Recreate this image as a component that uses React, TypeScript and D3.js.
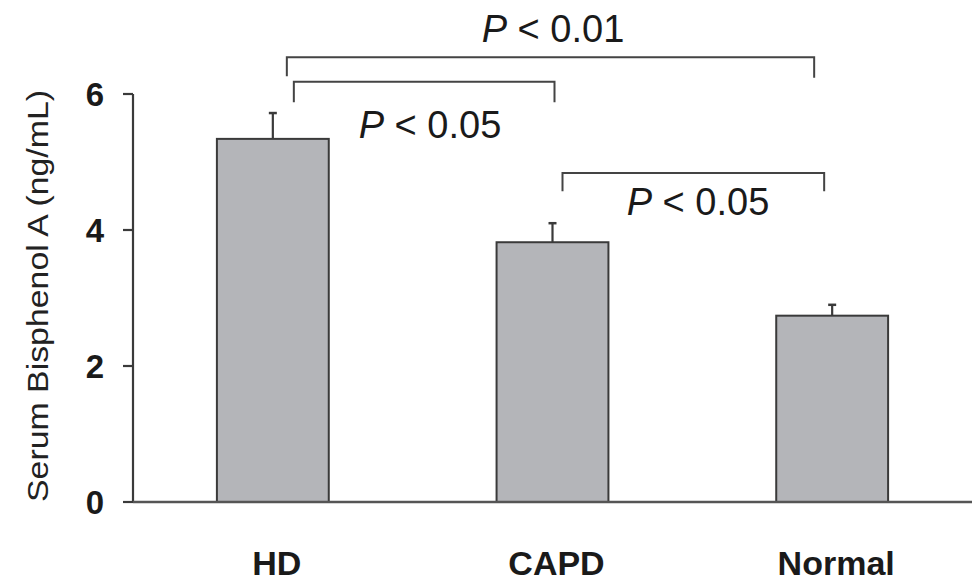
import React from 'react';
import * as d3 from 'd3';

const categories = ['HD', 'CAPD', 'Normal'];
const means = [5.34, 3.82, 2.74];
const errors = [0.38, 0.28, 0.16];
const yTicks = [0, 2, 4, 6];

// significance brackets: [left group, right group, label value]
const comparisons = [
  { from: 'HD', to: 'Normal', p: '0.01' },
  { from: 'HD', to: 'CAPD', p: '0.05' },
  { from: 'CAPD', to: 'Normal', p: '0.05' },
];

const W = 977;
const H = 581;
const axisX = 133;
const baseY = 502;

const App = () => {
  const x = d3.scaleBand<string>()
    .domain(categories)
    .range([axisX, 972])
    .paddingInner(0.6)
    .paddingOuter(0.3);
  const y = d3.scaleLinear().domain([0, 6]).range([baseY, 94]);
  const cx = (c: string) => (x(c) as number) + x.bandwidth() / 2;

  // layout of the brackets, as drawn in the figure (levels in data units)
  const bracketLayout = [
    { level: 6.54, leftDrop: 6.26, rightDrop: 6.24, dl: 14, dr: -18, textX: 553, textY: 42 },
    { level: 6.18, leftDrop: 5.88, rightDrop: 5.88, dl: 21, dr: 2, textX: 430, textY: 138 },
    { level: 4.84, leftDrop: 4.57, rightDrop: 4.57, dl: 10, dr: -8, textX: 698, textY: 215 },
  ];

  const stroke = '#3a3a3a';
  const font = 'Arial, "Liberation Sans", Helvetica, sans-serif';

  return (
    <svg width={W} height={H} style={{ position: 'absolute', left: 0, top: 0, background: '#fff' }}
      fontFamily={font}>
      {/* bars */}
      {categories.map((c, i) => (
        <g key={c}>
          <line x1={cx(c)} x2={cx(c)} y1={y(means[i])} y2={y(means[i] + errors[i])}
            stroke={stroke} strokeWidth={2.2} />
          <line x1={cx(c) - 4} x2={cx(c) + 4} y1={y(means[i] + errors[i])} y2={y(means[i] + errors[i])}
            stroke={stroke} strokeWidth={2.5} />
          <rect x={x(c)} y={y(means[i])} width={x.bandwidth()} height={baseY - y(means[i])}
            fill="#b4b5b9" stroke={stroke} strokeWidth={2} />
          <text x={cx(c) + 4} y={575} textAnchor="middle" fontSize={34} fontWeight="bold"
            fill="#1a1a1a">{c}</text>
        </g>
      ))}

      {/* y axis */}
      <line x1={axisX} x2={axisX} y1={y(6)} y2={baseY} stroke={stroke} strokeWidth={2.2} />
      {yTicks.map(t => (
        <g key={t}>
          <line x1={axisX - 10} x2={axisX} y1={y(t)} y2={y(t)} stroke={stroke} strokeWidth={2.2} />
          <text x={104} y={y(t) + 12} textAnchor="end" fontSize={33} fontWeight="bold" fill="#1a1a1a">{t}</text>
        </g>
      ))}
      <text transform={`translate(48, ${(y(6) + baseY) / 2 - 2}) rotate(-90)`} textAnchor="middle"
        fontSize={30} fill="#222" textLength={412} lengthAdjust="spacingAndGlyphs">
        Serum Bisphenol A (ng/mL)
      </text>

      {/* x axis */}
      <line x1={axisX} x2={972} y1={baseY} y2={baseY} stroke="#555" strokeWidth={2.5} />

      {/* significance brackets */}
      {comparisons.map((cmp, i) => {
        const b = bracketLayout[i];
        const x1 = cx(cmp.from) + b.dl;
        const x2 = cx(cmp.to) + b.dr;
        return (
          <g key={i}>
            <path d={`M${x1},${y(b.leftDrop)}V${y(b.level)}H${x2}V${y(b.rightDrop)}`}
              fill="none" stroke="#444" strokeWidth={2} />
            <text x={b.textX} y={b.textY} textAnchor="middle" fontSize={38} fill="#1a1a1a">
              <tspan fontStyle="italic">P</tspan>
              <tspan>{` < ${cmp.p}`}</tspan>
            </text>
          </g>
        );
      })}
    </svg>
  );
};

export default App;
